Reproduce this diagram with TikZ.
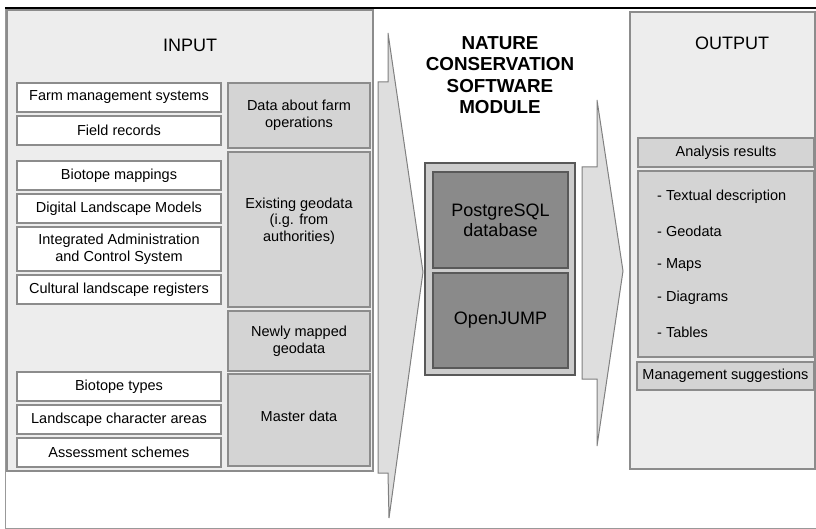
\documentclass[tikz,border=0pt]{standalone}
\usepackage{fontspec}
\setmainfont{Liberation Sans}
\begin{document}
\begin{tikzpicture}[x=1pt,y=-1pt,
  lbl/.style={font=\fontsize{14.5}{17}\selectfont, align=center, inner sep=0pt},
  wbox/.style={draw=black!45, line width=1.2pt, fill=white, minimum width=204pt, inner sep=0pt, font=\fontsize{14.5}{17}\selectfont, align=center},
  gbox/.style={draw=black!45, line width=1.2pt, fill=black!17, minimum width=142pt, inner sep=0pt, font=\fontsize{14.5}{17}\selectfont, align=center},
  obox/.style={draw=black!45, line width=1.2pt, fill=black!17, minimum width=176pt, inner sep=0pt, font=\fontsize{14.5}{17}\selectfont, align=center},
  dbox/.style={draw=black!65, line width=1.2pt, fill=black!46, minimum width=135pt, inner sep=0pt, font=\fontsize{18}{20}\selectfont, align=center},
  panel/.style={draw=black!45, line width=1.2pt, fill=black!7},
  bigarrow/.style={draw=black!50, line width=1pt, fill=black!13, line join=miter}
]
\useasboundingbox (0,0) rectangle (816,529);
% outer frame
\draw[black!40, line width=1pt] (5,8) -- (5,528) -- (816,528);
\draw[black, line width=1.2pt] (5,8) -- (816,8);

% panels
\node[panel, minimum width=366pt, minimum height=461pt, inner sep=0pt] (inpanel) at (190,240.5) {};
\node[panel, minimum width=185pt, minimum height=457pt, inner sep=0pt] (outpanel) at (722.5,240.5) {};
\node[font=\fontsize{18}{20}\selectfont] (input) at (190,45) {INPUT};
\node[font=\fontsize{18}{20}\selectfont] (output) at (732,43) {OUTPUT};

% big arrows
\draw[bigarrow] (378,82) -- (388,82) -- (388,33) -- (423,272) -- (389,518) -- (388,473) -- (378,473) -- cycle;
\draw[bigarrow] (582,167) -- (597,167) -- (597,100) -- (623,271) -- (597,446) -- (597,379) -- (582,379) -- cycle;

% input white boxes
\node[wbox, minimum height=29pt] (farm) at (119,97.5) {Farm management systems};
\node[wbox, minimum height=29pt] (field) at (119,130.5) {Field records};
\node[wbox, minimum height=29pt] (biomap) at (119,175.5) {Biotope mappings};
\node[wbox, minimum height=29pt] (dlm) at (119,208.5) {Digital Landscape Models};
\node[wbox, minimum height=44pt] (iacs) at (119,249) {Integrated Administration\\and Control System};
\node[wbox, minimum height=29pt] (cult) at (119,289.5) {Cultural landscape registers};
\node[wbox, minimum height=29pt] (btypes) at (119,386.5) {Biotope types};
\node[wbox, minimum height=29pt] (lca) at (119,419.5) {Landscape character areas};
\node[wbox, minimum height=29pt] (assess) at (119,452.5) {Assessment schemes};

% input gray boxes
\node[gbox, minimum height=65pt] (farmops) at (299,115.5) {Data about farm\\operations};
\node[gbox, minimum height=155pt] (exist) at (299,229.5) {};
\node[lbl, font=\fontsize{14.5}{16.5}\selectfont] (existtext) at (299,221) {Existing geodata\\(i.g. from\\authorities)};
\node[gbox, minimum height=60pt] (newly) at (299,341) {Newly mapped\\geodata};
\node[gbox, minimum height=92pt] (master) at (299,420) {};
\node[lbl] (mastertext) at (299,416) {Master data};

% module
\node[font=\bfseries\fontsize{18.8}{21.5}\selectfont, align=center, inner sep=0pt] (title) at (500,75) {NATURE\\CONSERVATION\\SOFTWARE\\MODULE};
\node[draw=black!65, line width=1.2pt, fill=black!20, minimum width=150pt, minimum height=212pt, inner sep=0pt] (module) at (500,269) {};
\node[dbox, minimum height=96pt] (pg) at (500.5,220) {PostgreSQL\\database};
\node[dbox, minimum height=95pt] (oj) at (500.5,320.5) {OpenJUMP};

% output boxes
\node[obox, minimum height=29pt] (analysis) at (726,152.5) {Analysis results};
\node[obox, minimum height=186pt] (list) at (726,264) {};
\node[lbl, anchor=west] (l1) at (657,197) {- Textual description};
\node[lbl, anchor=west] (l2) at (657,231) {- Geodata};
\node[lbl, anchor=west] (l3) at (657,265) {- Maps};
\node[lbl, anchor=west] (l4) at (657,298) {- Diagrams};
\node[lbl, anchor=west] (l5) at (657,332) {- Tables};
\node[obox, minimum width=177pt, minimum height=28pt] (mgmt) at (725.5,376) {Management suggestions};
\end{tikzpicture}
\end{document}
